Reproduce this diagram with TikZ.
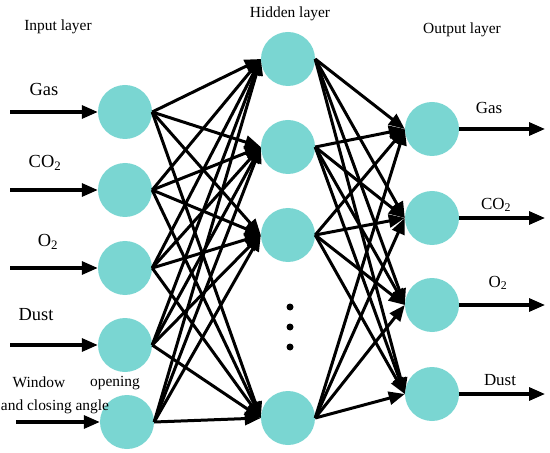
\documentclass[tikz,border=0pt]{standalone}
\usepackage{fontspec}
\setmainfont{Liberation Serif}
\usetikzlibrary{arrows.meta}
\definecolor{cellcyan}{RGB}{122,214,210}
\tikzset{
  neuron/.style={circle,fill=cellcyan,minimum size=54bp,inner sep=0pt},
  link/.style={line width=3bp,-{Triangle[length=16bp,width=13bp]}},
  feed/.style={line width=3.2bp,-{Triangle[length=16bp,width=13bp]}},
  layername/.style={font=\fontsize{15.5}{17}\selectfont},
  inname/.style={font=\fontsize{18.5}{20}\selectfont},
  outname/.style={font=\fontsize{17}{19}\selectfont},
  smallname/.style={font=\fontsize{15.5}{17}\selectfont}
}
\begin{document}
\begin{tikzpicture}[x=1bp,y=-1bp]
\useasboundingbox (0,0) rectangle (550,453);
\node[layername] (inlayer) at (58,27) {Input layer};
\node[layername] (hidlayer) at (290,14) {Hidden layer};
\node[layername] (outlayer) at (462,30) {Output layer};
\node[neuron] (i1) at (125,112) {};
\node[neuron] (i2) at (125,190) {};
\node[neuron] (i3) at (125,268) {};
\node[neuron] (i4) at (125,345) {};
\node[neuron] (i5) at (127,422) {};
\node[neuron] (h1) at (288,59) {};
\node[neuron] (h2) at (288,147) {};
\node[neuron] (h3) at (288,235) {};
\node[neuron] (h4) at (288,418) {};
\node[neuron] (o1) at (432,129) {};
\node[neuron] (o2) at (432,218) {};
\node[neuron] (o3) at (432,305) {};
\node[neuron] (o4) at (432,394) {};
\fill (290,307) circle (3.5bp);
\fill (290,327) circle (3.5bp);
\fill (290,347) circle (3.5bp);
\foreach \a in {1,...,5}
  \foreach \b in {1,...,4}
    \draw[link] (i\a.east) -- (h\b.west);
\foreach \a in {1,...,4}
  \foreach \b in {1,...,4}
    \draw[link] (h\a.east) -- (o\b.west);
\coordinate (s1) at (10,112);
\coordinate (s2) at (10,190);
\coordinate (s3) at (10,268);
\coordinate (s4) at (10,345);
\coordinate (s5) at (16,422);
\foreach \a in {1,...,5}
  \draw[feed] (s\a) -- (i\a.west);
\coordinate (t1) at (545,129);
\coordinate (t2) at (545,218);
\coordinate (t3) at (545,305);
\coordinate (t4) at (545,394);
\foreach \a in {1,...,4}
  \draw[feed] (o\a.east) -- (t\a);
\node[inname] (ingas) at (44,89) {Gas};
\node[inname] (inco) at (45,163) {CO\textsubscript{2}};
\node[inname] (ino) at (48,242) {O\textsubscript{2}};
\node[inname] (indust) at (36,315) {Dust};
\node[smallname] (inwin) at (39,382) {Window};
\node[smallname] (inopen) at (115,383) {opening};
\node[smallname] (inangle) at (55,407) {and closing angle};
\node[outname] (outgas) at (489,108) {Gas};
\node[outname] (outco) at (496,205) {CO\textsubscript{2}};
\node[outname] (outo) at (498,283) {O\textsubscript{2}};
\node[outname] (outdust) at (500,380) {Dust};
\end{tikzpicture}
\end{document}
